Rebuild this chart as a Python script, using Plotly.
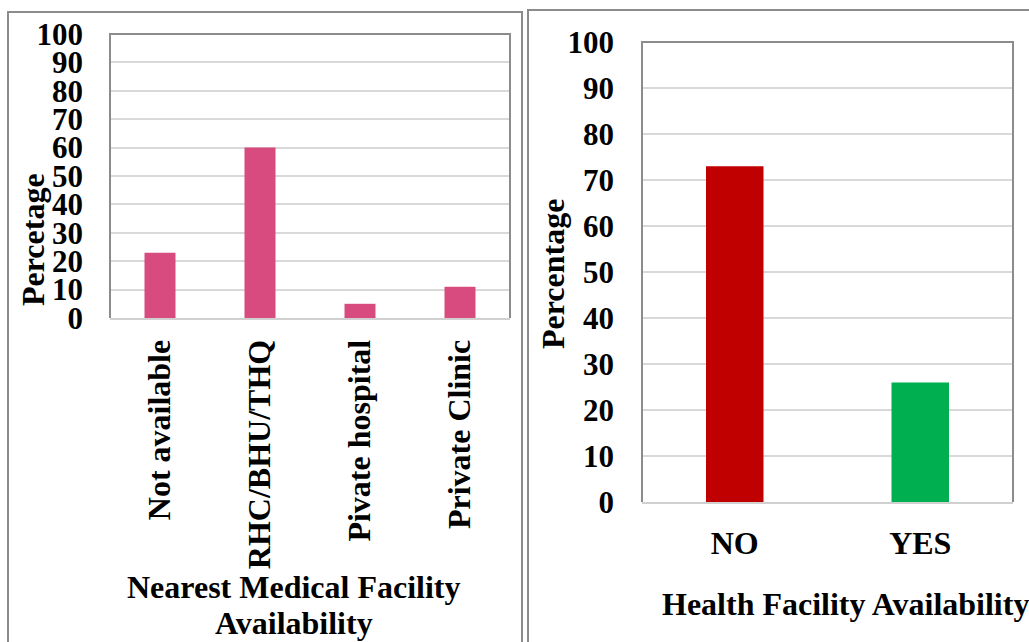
import plotly.graph_objects as go

# Data
facility_types = ["Not available", "RHC/BHU/THQ", "Pivate hospital", "Private Clinic"]
facility_pct = [23, 60, 5, 11]

availability = ["NO", "YES"]
availability_pct = [73, 26]
availability_colors = ["#C00000", "#00B050"]

y_ticks = list(range(0, 101, 10))

W, H = 1029, 642
FONT = "Times New Roman, Liberation Serif, serif"


def px_x(v):
    return v / W


def px_y(v):
    return 1 - v / H


fig = go.Figure()

fig.add_trace(go.Bar(
    x=facility_types, y=facility_pct, marker=dict(color="#D74B7E", line=dict(width=0)),
    xaxis="x", yaxis="y", showlegend=False,
))
fig.add_trace(go.Bar(
    x=availability, y=availability_pct, marker=dict(color=availability_colors, line=dict(width=0)),
    xaxis="x2", yaxis="y2", showlegend=False,
))

ytick_font = dict(family=FONT, size=31, color="black", weight="bold")
xtick_font = dict(family=FONT, size=32, color="black", weight="bold")
grid = "#D9D9D9"

fig.update_layout(
    width=W, height=H,
    margin=dict(l=0, r=0, t=0, b=0, autoexpand=False),
    paper_bgcolor="white", plot_bgcolor="white",
    bargap=0.69,
    xaxis=dict(
        domain=[px_x(110), px_x(510)], anchor="y", automargin=False,
        tickangle=-90, tickfont=xtick_font, ticklabelstandoff=7,
        showline=True, linecolor="#D0D0D0", linewidth=2, showgrid=False,
    ),
    yaxis=dict(
        domain=[px_y(318), px_y(34)], anchor="x", automargin=False,
        range=[0, 100], tickvals=y_ticks, tickfont=ytick_font, ticklabelstandoff=26,
        showgrid=True, gridcolor=grid, gridwidth=2, zeroline=False,
        showline=False,
    ),
    xaxis2=dict(
        domain=[px_x(642), px_x(1013)], anchor="y2", automargin=False,
        tickfont=xtick_font, ticklabelstandoff=12,
        showline=True, linecolor="#D0D0D0", linewidth=2, showgrid=False,
    ),
    yaxis2=dict(
        domain=[px_y(502), px_y(42)], anchor="x2", automargin=False,
        range=[0, 100], tickvals=y_ticks, tickfont=ytick_font, ticklabelstandoff=27,
        showgrid=True, gridcolor=grid, gridwidth=2, zeroline=False,
        showline=False,
    ),
)

# Plot area frames (left, top, right edges) and panel borders
frame = dict(color="#8C8C8C", width=2)
shapes = []
for (l, t, r, b) in [(110, 34, 510, 318), (642, 42, 1013, 502)]:
    shapes.append(dict(type="path", xref="paper", yref="paper",
                       path=f"M {px_x(l)} {px_y(b)} L {px_x(l)} {px_y(t)} L {px_x(r)} {px_y(t)} L {px_x(r)} {px_y(b)}",
                       line=frame, layer="above"))
for (l, t, r, b) in [(8, 12, 522, 660), (528, 10, 1045, 660)]:
    shapes.append(dict(type="rect", xref="paper", yref="paper",
                       x0=px_x(l), y0=px_y(b), x1=px_x(r), y1=px_y(t),
                       line=dict(color="#8C8C8C", width=2), fillcolor="rgba(0,0,0,0)"))
fig.update_layout(shapes=shapes)

title_font = dict(family=FONT, size=32, color="black", weight="bold")
annotations = [
    dict(text="Percetage", x=px_x(33), y=px_y(240), textangle=-90),
    dict(text="Nearest Medical Facility", x=px_x(294), y=px_y(587)),
    dict(text="Availability", x=px_x(294), y=px_y(623)),
    dict(text="Percentage", x=px_x(553), y=px_y(274), textangle=-90),
    dict(text="Health Facility Availability", x=px_x(845), y=px_y(604)),
]
for a in annotations:
    a.update(xref="paper", yref="paper", showarrow=False, font=title_font,
             xanchor="center", yanchor="middle")
fig.update_layout(annotations=annotations)

fig.write_html("out.html")
